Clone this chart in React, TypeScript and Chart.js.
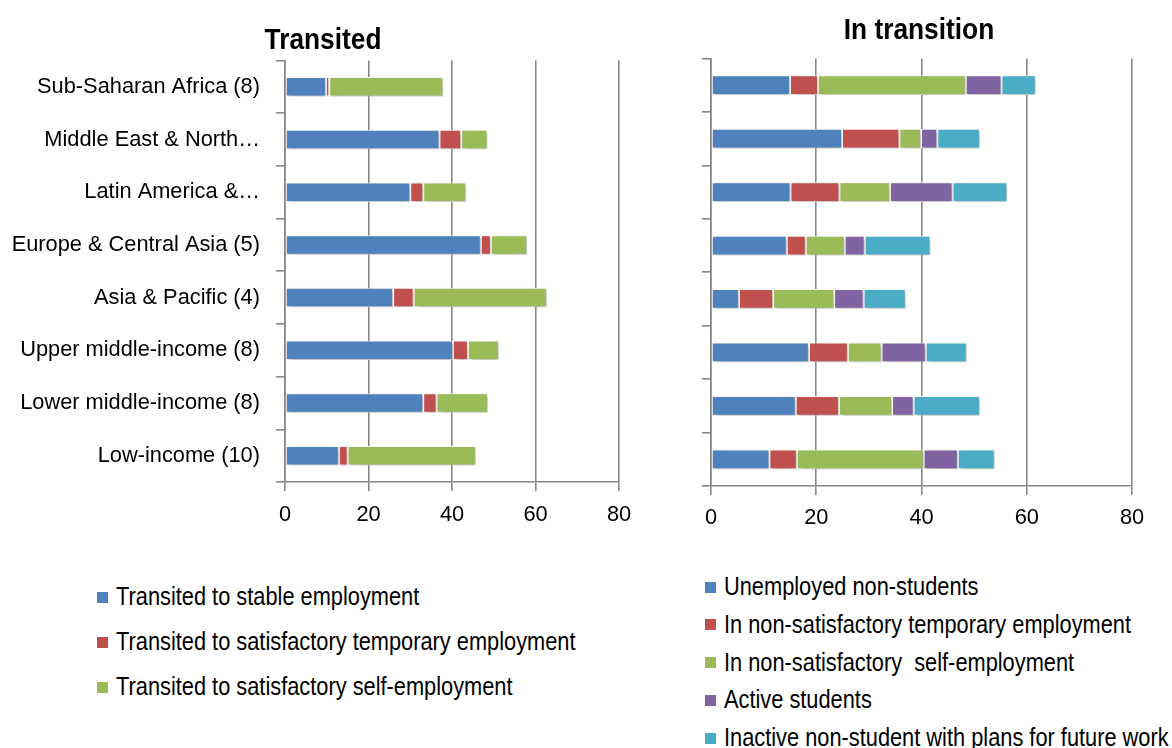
import React, { useEffect, useRef } from "react";
import { Chart, registerables } from "chart.js";

Chart.register(...registerables);

const categories = [
  "Sub-Saharan Africa (8)",
  "Middle East & North…",
  "Latin America &…",
  "Europe & Central Asia (5)",
  "Asia & Pacific (4)",
  "Upper middle-income (8)",
  "Lower middle-income (8)",
  "Low-income (10)",
];

const xTicks = [0, 20, 40, 60, 80];

// Transited
const stableEmployment = [9.8, 37.0, 30.0, 46.9, 25.9, 40.2, 33.1, 12.9];
const satisfactoryTemporary = [0.8, 5.2, 3.1, 2.4, 4.9, 3.6, 3.2, 2.1];
const satisfactorySelf = [27.3, 6.3, 10.3, 8.7, 31.9, 7.4, 12.3, 30.7];

// In transition
const unemployedNonStudents = [15.0, 24.9, 15.1, 14.4, 5.3, 18.6, 16.1, 11.1];
const nonSatTemporary = [5.3, 10.9, 9.3, 3.6, 6.5, 7.4, 8.2, 5.2];
const nonSatSelf = [28.1, 4.1, 9.6, 7.4, 11.6, 6.4, 10.1, 24.1];
const activeStudents = [6.8, 3.1, 11.9, 3.8, 5.6, 8.4, 4.1, 6.5];
const inactivePlans = [6.5, 8.1, 10.4, 12.5, 8.0, 7.8, 12.6, 7.0];

const leftSeries = [
  { label: "Transited to stable employment", data: stableEmployment, color: "#4F81BD" },
  { label: "Transited to satisfactory temporary employment", data: satisfactoryTemporary, color: "#C0504D" },
  { label: "Transited to satisfactory self-employment", data: satisfactorySelf, color: "#9BBB59" },
];

const rightSeries = [
  { label: "Unemployed non-students", data: unemployedNonStudents, color: "#4F81BD" },
  { label: "In non-satisfactory temporary employment", data: nonSatTemporary, color: "#C0504D" },
  { label: "In non-satisfactory  self-employment", data: nonSatSelf, color: "#9BBB59" },
  { label: "Active students", data: activeStudents, color: "#8064A2" },
  { label: "Inactive non-student with plans for future work", data: inactivePlans, color: "#4BACC6" },
];

const FONT = "'Liberation Sans', Arial, sans-serif";
const GRID = "#878787";
const TEXT_SIZE = 21.8;

const shadowPlugin = {
  id: "barShadow",
  beforeDatasetDraw(chart: any) {
    const ctx = chart.ctx;
    ctx.save();
    ctx.shadowColor = "rgba(0,0,0,0.28)";
    ctx.shadowBlur = 4;
    ctx.shadowOffsetX = 2;
    ctx.shadowOffsetY = 2;
  },
  afterDatasetDraw(chart: any) {
    chart.ctx.restore();
  },
};

function titlePlugin(text: string, cx: number, cy: number) {
  return {
    id: "placedTitle",
    afterDraw(chart: any) {
      const ctx = chart.ctx;
      ctx.save();
      ctx.translate(cx, cy);
      ctx.scale(1, 1.14);
      ctx.fillStyle = "#000";
      ctx.font = `bold 26.3px ${FONT}`;
      ctx.textAlign = "center";
      ctx.textBaseline = "middle";
      ctx.fillText(text, 0, 0);
      ctx.restore();
    },
  };
}

function makeConfig(opts: {
  series: { label: string; data: number[]; color: string }[];
  title: string;
  titleX: number;
  titleY: number;
  showLabels: boolean;
  yWidth: number;
  padTop: number;
  padRight: number;
  tickPad: number;
}) {
  return {
    type: "bar" as const,
    data: {
      labels: categories,
      datasets: opts.series.map((s) => ({
        label: s.label,
        data: s.data,
        backgroundColor: s.color,
        borderColor: "#ffffff",
        borderWidth: 1,
        borderSkipped: false,
        categoryPercentage: 1,
        barPercentage: 0.37,
      })),
    },
    plugins: [shadowPlugin, titlePlugin(opts.title, opts.titleX, opts.titleY)],
    options: {
      indexAxis: "y" as const,
      animation: false as const,
      responsive: false,
      maintainAspectRatio: false,
      layout: { padding: { left: 0, right: opts.padRight, top: opts.padTop, bottom: 0 } },
      plugins: {
        legend: { display: false },
        tooltip: { enabled: false },
        title: { display: false },
      },
      scales: {
        x: {
          stacked: true,
          min: 0,
          max: 80,
          afterBuildTicks: (scale: any) => {
            scale.ticks = xTicks.map((v) => ({ value: v }));
          },
          afterFit: (scale: any) => {
            scale.height = 41;
          },
          grid: {
            display: true,
            drawOnChartArea: true,
            drawTicks: true,
            tickLength: 9,
            color: GRID,
            lineWidth: 1.6,
          },
          border: { display: true, color: GRID, width: 1.6 },
          ticks: {
            color: "#000",
            padding: opts.tickPad,
            font: { family: FONT, size: TEXT_SIZE },
            maxRotation: 0,
          },
        },
        y: {
          stacked: true,
          afterFit: (scale: any) => {
            scale.width = opts.yWidth;
          },
          grid: {
            display: true,
            drawOnChartArea: false,
            drawTicks: true,
            tickLength: 9,
            offset: true,
            color: GRID,
            lineWidth: 1.6,
          },
          border: { display: true, color: GRID, width: 1.6 },
          ticks: {
            display: opts.showLabels,
            color: "#000",
            padding: 16,
            font: { family: FONT, size: TEXT_SIZE },
            autoSkip: false,
          },
        },
      },
    },
  };
}

function BarChart(props: {
  left: number;
  top: number;
  width: number;
  height: number;
  config: any;
}) {
  const ref = useRef<HTMLCanvasElement | null>(null);
  useEffect(() => {
    if (!ref.current) return;
    const chart = new Chart(ref.current, props.config);
    return () => chart.destroy();
  }, []);
  return (
    <canvas
      ref={ref}
      width={props.width}
      height={props.height}
      style={{
        position: "absolute",
        left: props.left,
        top: props.top,
        width: props.width,
        height: props.height,
      }}
    />
  );
}

function Legend(props: {
  series: { label: string; color: string }[];
  left: number;
  firstCenter: number;
  step: number;
}) {
  return (
    <>
      {props.series.map((s, i) => (
        <div
          key={s.label}
          style={{
            position: "absolute",
            left: props.left,
            top: props.firstCenter + i * props.step - 15,
            height: 30,
            display: "flex",
            alignItems: "center",
            whiteSpace: "pre",
            fontFamily: FONT,
            fontSize: TEXT_SIZE,
            color: "#000",
          }}
        >
          <span
            style={{
              display: "inline-block",
              width: 11,
              height: 11,
              background: s.color,
              marginRight: 8,
            }}
          />
          <span style={{ display: "inline-block", transform: "scaleY(1.18)" }}>{s.label}</span>
        </div>
      ))}
    </>
  );
}

export default function App() {
  const leftConfig = makeConfig({
    series: leftSeries,
    title: "Transited",
    titleX: 323,
    titleY: 40.5,
    showLabels: true,
    yWidth: 285,
    padTop: 60.5,
    padRight: 27,
    tickPad: 11,
  });
  const rightConfig = makeConfig({
    series: rightSeries,
    title: "In transition",
    titleX: 253,
    titleY: 30.5,
    showLabels: false,
    yWidth: 45,
    padTop: 58.5,
    padRight: 40,
    tickPad: 10,
  });
  return (
    <div
      style={{
        position: "absolute",
        left: 0,
        top: 0,
        width: 1172,
        height: 748,
        overflow: "hidden",
        background: "#fff",
      }}
    >
      <BarChart left={0} top={0} width={646} height={523} config={leftConfig} />
      <BarChart left={666} top={0} width={506} height={527} config={rightConfig} />
      <Legend series={leftSeries} left={97} firstCenter={597} step={45} />
      <Legend series={rightSeries} left={705} firstCenter={587} step={37.8} />
    </div>
  );
}
